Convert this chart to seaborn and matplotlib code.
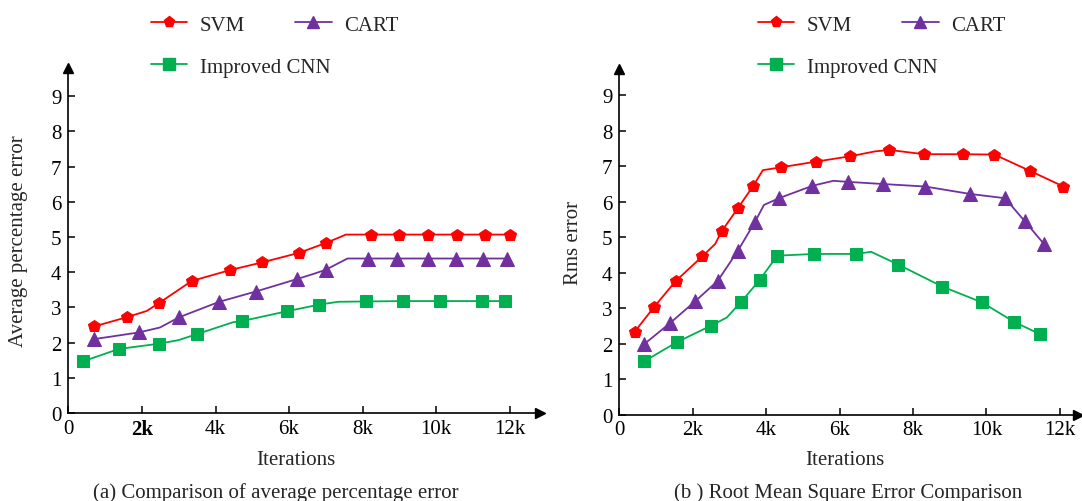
import numpy as np
import pandas as pd
import matplotlib
matplotlib.use("Agg")
import matplotlib.pyplot as plt
from matplotlib.lines import Line2D
import seaborn as sns

# ---- style ----
sns.set_style("ticks")
plt.rcParams['font.family'] = ['Liberation Serif', 'DejaVu Serif']
plt.rcParams['mathtext.fontset'] = 'stix'

# ---- data: (a) average percentage error ----
# x in thousands of iterations; *_mk = indices of points that carry a marker
svm_a_x = [0.70, 1.58, 2.13, 2.47, 3.35, 4.39, 5.27, 6.27, 7.00, 7.55, 8.22, 9.00, 9.77, 10.56, 11.33, 12.00]
svm_a_y = [2.46, 2.72, 2.90, 3.13, 3.75, 4.06, 4.28, 4.55, 4.83, 5.07, 5.07, 5.07, 5.07, 5.07, 5.07, 5.07]
svm_a_mk = [0, 1, 3, 4, 5, 6, 7, 8, 10, 11, 12, 13, 14, 15]

cart_a_x = [0.70, 1.92, 2.49, 3.01, 4.10, 5.09, 6.23, 6.66, 7.00, 7.59, 8.16, 8.95, 9.79, 10.54, 11.29, 11.92]
cart_a_y = [2.10, 2.29, 2.43, 2.72, 3.16, 3.45, 3.81, 3.95, 4.07, 4.39, 4.39, 4.39, 4.39, 4.39, 4.39, 4.39]
cart_a_mk = [0, 1, 3, 4, 5, 6, 8, 10, 11, 12, 13, 14, 15]

cnn_a_x = [0.40, 1.37, 2.47, 2.99, 3.49, 4.48, 4.71, 5.94, 6.82, 7.34, 8.10, 9.11, 10.11, 11.24, 11.89]
cnn_a_y = [1.47, 1.82, 1.97, 2.07, 2.24, 2.58, 2.61, 2.89, 3.08, 3.16, 3.17, 3.18, 3.18, 3.18, 3.18]
cnn_a_mk = [0, 1, 2, 4, 6, 7, 8, 10, 11, 12, 13, 14]

# ---- data: (b) root mean square error ----
svm_b_x = [0.42, 0.95, 1.54, 2.26, 2.61, 2.79, 3.23, 3.65, 3.91, 4.40, 5.35, 6.28, 6.97, 7.36, 8.30, 9.37, 10.22, 11.19, 12.10]
svm_b_y = [2.34, 3.04, 3.77, 4.46, 4.81, 5.17, 5.82, 6.45, 6.89, 6.97, 7.13, 7.28, 7.42, 7.46, 7.34, 7.34, 7.33, 6.87, 6.43]
svm_b_mk = [0, 1, 2, 3, 5, 6, 7, 9, 10, 11, 13, 14, 15, 16, 17, 18]

cart_b_x = [0.68, 1.38, 2.06, 2.68, 3.23, 3.70, 3.94, 4.35, 5.26, 5.83, 6.24, 7.18, 8.33, 9.56, 10.51, 11.04, 11.57]
cart_b_y = [1.99, 2.58, 3.19, 3.77, 4.62, 5.44, 5.91, 6.10, 6.45, 6.59, 6.56, 6.50, 6.43, 6.22, 6.10, 5.46, 4.81]
cart_b_mk = [0, 1, 2, 3, 4, 5, 7, 8, 10, 11, 12, 13, 14, 15, 16]

cnn_b_x = [0.67, 1.56, 2.50, 2.93, 3.31, 3.82, 4.30, 5.31, 6.45, 6.86, 7.60, 8.80, 9.87, 10.75, 11.46]
cnn_b_y = [1.50, 2.04, 2.51, 2.74, 3.17, 3.79, 4.48, 4.53, 4.53, 4.59, 4.23, 3.61, 3.17, 2.62, 2.27]
cnn_b_mk = [0, 1, 2, 4, 5, 6, 7, 8, 10, 11, 12, 13, 14]

labels = ['SVM', 'CART', 'Improved CNN']
colors = ['#FF0000', '#7030A0', '#00B050']
markers = ['p', '^', 's']
msizes = [9, 10, 9]

x_ticks = [0, 2, 4, 6, 8, 10, 12]
x_ticklabels = ['0', '2k', '4k', '6k', '8k', '10k', '12k']
y_ticks = list(range(10))

FS = 15

fig = plt.figure(figsize=(10.82, 5.02), dpi=100)
ax1 = fig.add_axes([0.0633, 0.1753, 0.4358, 0.687])
ax2 = fig.add_axes([0.5724, 0.1719, 0.4240, 0.6886])


def draw_series(ax, xs, ys, mk, i):
    df = pd.DataFrame({'x': xs, 'y': ys})
    sns.lineplot(data=df, x='x', y='y', ax=ax, color=colors[i], lw=1.3,
                 marker=markers[i], markersize=msizes[i], markevery=mk,
                 markeredgecolor=colors[i], sort=False, estimator=None)


def style_axes(ax, xmax, ymax):
    ax.set_xlim(0, xmax)
    ax.set_ylim(0, ymax)
    for s in ['top', 'right']:
        ax.spines[s].set_visible(False)
    for s in ['left', 'bottom']:
        ax.spines[s].set_linewidth(1.2)
        ax.spines[s].set_color('black')
    ax.set_xticks(x_ticks)
    ax.set_xticklabels(x_ticklabels)
    ax.set_yticks(y_ticks)
    ax.tick_params(direction='in', length=5, width=1.1, labelsize=FS, pad=5, colors='black')
    ax.tick_params(axis='x', pad=4)
    ax.plot(0, 1, marker='^', color='black', ms=7, transform=ax.transAxes, clip_on=False)
    ax.plot(1, 0, marker='>', color='black', ms=7, transform=ax.transAxes, clip_on=False)
    ax.grid(False)


def add_legend(ax, x0, y0):
    hs = [Line2D([], [], color=colors[i], lw=1.3, marker=markers[i], markersize=msizes[i] - 1,
                 markeredgecolor=colors[i]) for i in range(3)]
    kw = dict(frameon=False, fontsize=FS, handlelength=1.75, handletextpad=0.6,
              borderpad=0, borderaxespad=0, loc='upper left', bbox_transform=fig.transFigure)
    leg1 = ax.legend(hs[:2], labels[:2], ncol=2, columnspacing=2.4,
                     bbox_to_anchor=(x0, y0), **kw)
    ax.add_artist(leg1)
    ax.legend(hs[2:], labels[2:], bbox_to_anchor=(x0, y0 - 0.084), **kw)


# (a)
draw_series(ax1, svm_a_x, svm_a_y, svm_a_mk, 0)
draw_series(ax1, cart_a_x, cart_a_y, cart_a_mk, 1)
draw_series(ax1, cnn_a_x, cnn_a_y, cnn_a_mk, 2)
style_axes(ax1, 12.83, 9.8)
ax1.get_xticklabels()[1].set_fontweight('bold')
ax1.set_xlabel('Iterations', fontsize=FS)
ax1.set_ylabel('Average percentage error', fontsize=FS)
ax1.xaxis.set_label_coords(0.4825, -0.107)
ax1.yaxis.set_label_coords(-0.086, 0.5)
add_legend(ax1, 151 / 1082, 1 - 16 / 502)

# (b)
draw_series(ax2, svm_b_x, svm_b_y, svm_b_mk, 0)
draw_series(ax2, cart_b_x, cart_b_y, cart_b_mk, 1)
draw_series(ax2, cnn_b_x, cnn_b_y, cnn_b_mk, 2)
style_axes(ax2, 12.5, 9.74)
ax2.set_xlabel('Iterations', fontsize=FS)
ax2.set_ylabel('Rms error', fontsize=FS)
ax2.xaxis.set_label_coords(0.492, -0.102)
ax2.yaxis.set_label_coords(-0.079, 0.5)
add_legend(ax2, 758 / 1082, 1 - 16 / 502)

fig.text(275.5 / 1082, 1 - 493 / 502, '(a) Comparison of average percentage error',
         ha='center', va='center', fontsize=FS)
fig.text(848 / 1082, 1 - 493 / 502, '(b ) Root Mean Square Error Comparison',
         ha='center', va='center', fontsize=FS)

fig.savefig('out.png', dpi=100)
